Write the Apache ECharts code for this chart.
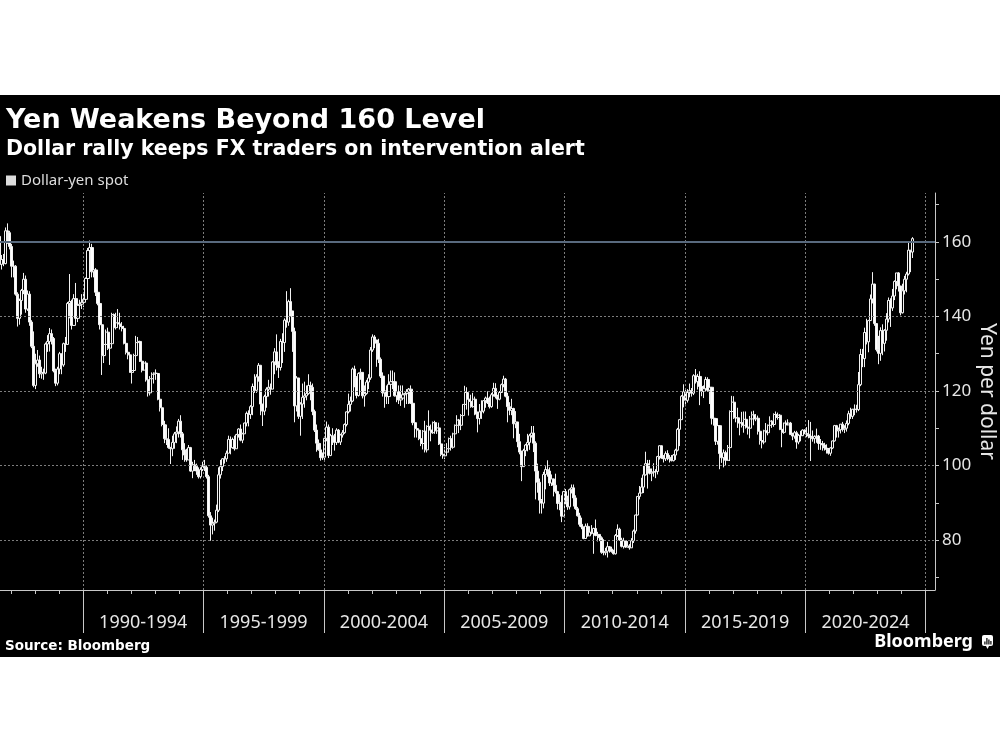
<!DOCTYPE html>
<html>
<head>
<meta charset="utf-8">
<script src="https://cdn.jsdelivr.net/npm/echarts@6/dist/echarts.min.js"></script>
<style>
html,body{margin:0;padding:0;background:#fff;width:1000px;height:750px;overflow:hidden}
#chart{position:absolute;left:0;top:95px;width:1000px;height:562px;background:#000}
</style>
</head>
<body>
<div id="chart"></div>
<script>
// Monthly USD/JPY candles, July 1986 .. June 2024
const startYear = 1986, startMonth = 7;
const firstOpen = 161.5;
const closes = [
  154.0,155.3,154.2,163.0,162.5,158.8,
  153.5,153.5,146.0,139.5,144.3,147.0,150.0,142.0,146.0,138.5,132.0,121.5,
  127.3,128.3,124.6,125.0,124.8,132.6,133.3,135.4,134.1,125.4,122.1,125.9,
  130.0,127.0,132.7,132.5,143.5,144.0,137.6,144.8,139.5,143.0,143.3,143.8,
  144.6,150.2,157.7,158.5,152.0,152.5,146.5,143.5,137.8,129.5,132.5,135.8,
  131.5,132.7,140.5,137.0,138.3,138.0,137.3,136.8,132.8,130.4,129.7,125.0,
  125.5,129.5,133.0,133.3,128.0,125.6,127.5,123.0,119.5,123.3,124.5,124.8,
  124.7,117.8,115.5,111.0,107.2,107.0,104.8,104.5,106.2,108.5,109.0,111.9,
  108.5,104.2,102.8,101.5,104.8,98.5,100.2,99.8,98.5,97.0,98.9,99.7,
  99.5,97.0,86.5,84.0,84.5,84.8,88.0,97.5,99.7,101.8,101.8,103.3,
  107.0,104.8,107.0,104.5,108.3,109.8,106.8,108.5,111.4,114.0,113.7,115.8,
  121.2,120.2,123.8,126.9,116.5,114.6,118.5,120.5,121.0,120.5,127.8,130.5,
  127.0,126.3,133.3,133.0,139.0,138.5,144.0,141.5,136.0,116.0,123.5,113.2,
  116.5,118.3,118.7,119.3,121.5,121.0,114.5,109.5,106.0,104.2,102.1,102.2,
  107.3,110.3,102.7,108.0,107.8,106.2,109.5,106.3,108.2,108.8,111.0,114.4,
  116.4,117.3,125.9,123.6,118.8,124.7,125.0,118.7,119.3,122.4,123.5,131.0,
  134.5,133.7,132.8,128.5,124.0,119.5,120.0,118.5,121.8,122.5,122.5,118.7,
  119.8,117.6,118.1,119.0,119.3,119.8,120.5,116.7,111.5,109.9,109.5,107.2,
  105.9,109.2,104.2,110.5,109.5,108.8,111.5,109.3,110.1,105.8,103.0,102.6,
  103.6,104.5,107.2,104.9,108.5,110.8,112.2,110.8,113.4,116.4,119.6,117.8,
  117.2,115.8,117.8,113.8,112.6,114.4,114.6,117.4,118.1,116.8,115.8,119.0,
  120.7,118.5,117.8,119.6,121.7,123.2,118.6,115.8,114.8,115.3,111.2,111.7,
  106.4,103.6,99.7,104.0,105.5,106.2,108.0,108.7,106.0,98.5,95.5,90.7,
  89.9,97.6,98.9,98.5,95.3,96.4,94.7,93.0,89.8,90.1,86.4,93.0,
  90.3,88.9,93.5,94.0,91.3,88.4,86.5,84.2,83.5,80.4,83.7,81.1,
  82.1,81.8,83.1,81.2,81.5,80.6,76.7,76.6,77.0,78.2,77.6,76.9,
  76.3,81.2,82.9,80.0,78.3,79.8,78.1,78.4,77.9,79.8,82.4,86.7,
  91.7,92.6,94.2,97.5,100.5,99.1,97.9,98.2,98.3,98.4,102.4,105.3,
  102.0,101.8,103.2,102.2,101.8,101.3,102.8,104.1,109.7,112.3,118.6,119.8,
  117.5,119.6,120.1,119.4,124.1,122.5,123.9,121.2,119.9,120.6,123.1,120.2,
  121.0,112.7,112.6,106.5,110.7,103.2,102.1,103.4,101.4,104.8,114.5,117.0,
  112.8,112.8,111.4,111.5,110.8,112.4,110.3,110.0,112.5,113.6,112.5,112.7,
  109.2,106.7,106.3,109.3,108.8,110.8,111.9,111.0,113.7,112.9,113.5,109.7,
  108.9,111.4,110.9,111.4,108.3,107.9,108.8,106.3,108.1,108.0,109.5,108.6,
  108.4,107.9,107.5,107.2,107.8,107.9,105.9,105.9,105.5,104.7,104.3,103.3,
  104.7,106.6,110.7,109.3,109.6,111.1,109.7,110.0,111.3,113.9,113.2,115.1,
  115.1,115.0,121.7,129.8,128.7,135.7,133.2,138.9,144.7,148.7,138.1,131.1,
  130.1,136.2,132.8,136.3,139.3,144.3,142.3,145.5,149.4,151.7,148.2,141.0,
  146.9,150.0,151.4,157.8,157.3,160.9
];
const highs = [
  163.2,156.5,156.8,163.9,165.0,163.0,
  159.5,155.0,153.8,146.5,144.8,147.4,151.7,151.0,147.0,146.8,139.0,136.0,
  130.0,131.0,129.5,126.5,126.0,133.0,135.0,136.9,136.5,134.5,126.0,126.5,
  130.5,130.0,133.0,134.5,143.9,151.4,144.5,146.0,149.0,143.5,144.5,146.0,
  146.5,150.5,158.4,160.4,159.5,155.0,153.0,150.0,145.0,138.5,133.5,136.5,
  137.0,134.0,141.0,140.8,141.0,142.0,141.0,138.5,137.5,133.5,131.5,130.0,
  127.5,130.0,134.8,134.5,133.5,128.5,128.0,128.0,124.0,124.0,125.0,125.0,
  125.8,124.5,118.5,115.5,112.0,111.0,110.0,105.0,108.0,109.0,110.5,112.5,
  113.5,109.0,106.0,104.5,105.5,105.0,101.0,101.5,100.5,99.5,99.5,101.0,
  101.5,100.0,97.5,87.5,86.0,85.5,89.5,99.5,101.5,102.0,102.5,104.0,
  108.0,107.8,107.5,108.0,108.5,110.0,111.0,108.8,111.5,114.5,114.8,116.2,
  122.0,124.5,124.5,127.5,127.0,116.5,119.0,121.0,123.0,122.0,128.0,131.5,
  135.2,128.0,134.0,135.5,139.5,146.8,144.5,147.6,139.5,137.0,124.0,123.5,
  117.0,122.0,122.5,121.5,124.5,122.5,122.0,115.0,111.0,107.0,106.0,103.5,
  107.5,111.8,111.0,108.5,110.0,108.5,110.0,109.8,108.5,109.5,111.3,114.5,
  119.3,118.5,126.3,126.8,124.0,125.0,126.0,125.0,121.5,123.0,124.5,131.8,
  135.2,135.0,133.5,134.0,129.0,125.0,120.5,121.5,124.5,125.5,125.5,125.0,
  120.5,121.5,121.5,121.5,119.5,120.5,120.8,121.5,117.5,111.5,110.5,109.5,
  107.5,109.5,112.0,110.8,114.8,111.0,111.8,112.0,111.5,111.5,106.5,105.8,
  105.0,106.0,107.5,108.0,108.8,111.0,113.5,112.5,113.8,116.5,121.4,121.0,
  118.0,119.0,119.5,118.5,114.5,116.5,117.5,117.5,118.5,119.9,118.5,119.5,
  122.2,122.1,119.0,120.0,122.0,124.1,123.5,119.5,117.0,117.9,115.5,114.6,
  109.8,108.5,104.0,104.5,105.8,108.5,108.5,110.6,110.6,106.5,100.5,96.5,
  91.0,98.3,99.8,101.4,99.5,97.6,96.5,97.8,93.2,92.3,92.0,93.2,
  93.7,91.9,93.8,94.9,94.9,92.0,88.9,87.3,86.0,83.6,84.4,84.5,
  83.7,84.0,83.3,85.5,82.2,81.5,81.0,80.2,77.9,79.5,78.4,78.2,
  77.4,81.6,84.2,83.3,80.6,80.6,80.0,79.7,78.9,80.5,82.8,86.8,
  91.8,94.5,96.7,99.9,103.7,101.5,101.5,99.2,100.6,99.0,102.6,105.4,
  105.4,102.8,103.8,104.1,102.8,102.8,103.1,104.5,110.1,112.5,118.9,121.8,
  120.8,120.5,122.0,120.8,124.5,125.9,124.6,125.3,121.7,121.5,123.8,123.7,
  121.7,121.0,114.0,112.0,111.5,110.5,107.5,104.3,104.0,105.5,114.8,118.7,
  118.6,115.0,115.5,112.2,114.4,114.5,114.5,111.0,113.3,114.5,114.7,113.8,
  113.4,110.5,107.3,109.6,111.4,111.0,113.2,112.2,114.0,114.5,114.2,113.8,
  109.9,111.5,112.1,112.4,111.7,108.8,109.3,109.3,108.5,109.3,109.7,109.7,
  110.3,112.2,111.7,109.4,108.1,109.9,108.2,107.1,106.6,106.1,105.7,104.7,
  104.9,106.7,110.9,110.9,110.2,111.1,111.7,110.8,112.1,114.7,115.5,115.2,
  116.4,116.3,125.1,131.3,131.3,137.0,139.4,139.1,145.9,151.9,148.8,138.2,
  134.8,137.1,137.9,136.6,140.9,145.1,144.9,147.4,149.7,151.7,151.9,148.0,
  148.8,150.9,152.0,160.2,157.7,161.3
];
const lows = [
  152.8,152.6,153.5,154.0,159.5,158.0,
  150.5,150.5,145.6,137.3,137.8,140.5,146.0,141.0,141.5,137.5,131.5,121.0,
  120.5,126.5,123.5,123.3,123.0,124.5,130.5,130.6,132.5,125.0,121.3,121.5,
  124.5,124.5,126.5,130.5,132.5,139.5,136.5,137.5,138.0,138.5,141.8,142.0,
  142.5,144.5,148.5,154.5,150.5,150.5,145.5,143.0,136.5,124.3,127.5,131.0,
  131.0,127.0,132.0,134.5,136.5,137.0,136.5,136.0,132.5,129.8,128.5,124.9,
  122.0,125.0,129.5,131.5,127.8,125.0,125.5,122.5,118.5,118.8,121.5,122.0,
  123.0,117.5,114.5,110.5,106.0,105.5,104.5,100.4,102.5,104.5,106.0,107.5,
  107.5,101.5,101.0,101.0,102.0,98.3,96.6,98.5,97.5,96.5,96.5,98.5,
  98.5,96.5,86.0,79.8,81.5,82.5,84.5,87.5,96.5,98.5,100.5,101.0,
  103.5,103.0,104.5,104.0,104.5,107.5,106.5,106.0,108.5,110.5,110.5,112.5,
  113.5,119.5,119.5,122.5,113.5,110.6,113.5,115.5,118.5,119.0,120.5,124.5,
  125.5,123.5,125.5,127.5,130.5,137.0,137.5,140.0,130.5,111.6,114.5,112.5,
  108.0,112.5,115.5,117.5,119.0,117.5,113.5,109.0,103.7,104.0,101.3,101.5,
  101.5,106.5,102.0,102.5,105.5,104.0,105.5,106.0,105.5,107.5,108.5,110.5,
  114.0,114.5,117.0,121.0,118.0,118.5,123.0,118.0,115.8,119.0,120.5,123.0,
  130.5,131.5,126.5,127.5,123.5,118.5,115.5,116.5,116.5,121.0,120.5,118.5,
  117.0,116.5,116.0,118.0,115.5,116.5,116.5,116.5,110.8,107.5,107.5,106.8,
  105.2,104.3,103.5,103.5,108.5,106.5,108.5,108.5,108.5,105.5,102.5,101.8,
  101.7,103.0,103.5,104.0,104.5,106.5,110.0,108.7,109.5,113.0,116.0,115.0,
  113.4,115.5,115.5,113.5,108.9,111.0,112.5,114.0,115.5,116.5,115.3,115.5,
  118.5,118.0,115.2,117.5,119.5,121.0,118.3,111.6,113.5,113.5,107.3,110.0,
  104.9,103.0,95.8,99.8,102.5,103.8,104.2,107.5,103.6,90.9,92.7,87.1,
  87.1,88.5,93.6,97.0,94.5,94.5,91.7,92.5,88.2,88.0,84.8,86.4,
  89.6,88.1,88.2,92.5,89.0,88.1,86.3,83.6,82.9,80.2,80.3,80.9,
  81.5,81.5,76.3,81.0,79.6,79.7,76.3,75.9,75.9,75.3,76.6,76.6,
  76.1,76.1,80.8,79.8,78.0,77.7,77.9,78.0,77.4,77.9,79.2,81.7,
  86.6,90.9,92.6,92.6,97.3,93.8,97.6,95.8,97.0,96.6,97.6,101.6,
  101.8,100.8,101.2,101.4,100.8,101.1,101.1,101.5,103.8,105.2,112.4,115.6,
  115.9,116.9,118.3,118.5,118.9,122.0,120.4,116.2,118.6,118.1,120.4,119.8,
  116.5,111.0,110.7,105.5,105.6,99.0,100.7,99.5,100.1,101.3,101.2,112.9,
  112.5,111.6,110.1,108.1,110.2,108.8,109.9,108.3,107.3,111.7,110.8,111.9,
  108.3,105.6,104.6,105.7,108.1,108.1,110.3,110.1,110.4,111.4,112.3,109.5,
  104.9,108.5,109.7,110.8,108.3,106.8,107.2,104.5,105.7,106.5,107.9,108.4,
  107.6,107.3,101.2,106.4,105.9,106.1,104.2,104.2,104.0,104.0,103.2,102.9,
  102.6,104.4,106.4,107.5,107.5,108.6,109.1,108.7,109.1,110.8,112.5,112.5,
  113.5,114.2,114.6,121.3,126.4,126.4,132.5,130.4,138.8,143.5,137.5,130.6,
  127.2,128.1,129.6,130.6,133.5,138.4,137.2,141.5,144.4,147.3,146.7,140.3,
  140.8,145.9,146.5,151.0,151.9,155.7
];

const bandEdges  = [1990, 1995, 2000, 2005, 2010, 2015, 2020, 2025];
const bandMids   = [1992.5, 1997.5, 2002.5, 2007.5, 2012.5, 2017.5, 2022.5];
const bandLabels = ['1990-1994','1995-1999','2000-2004','2005-2009','2010-2014','2015-2019','2020-2024'];
const yearTicks  = [1987,1988,1989,1990,1991,1992,1993,1994,1995,1996,1997,1998,1999,2000,2001,2002,2003,2004,2005,2006,2007,2008,2009,2010,2011,2012,2013,2014,2015,2016,2017,2018,2019,2020,2021,2022,2023,2024,2025];
const yTicks     = [70, 80, 90, 100, 110, 120, 130, 140, 150, 160, 170];
const yLabels    = [80, 100, 120, 140, 160];
const yGrid      = [80, 100, 120, 140];
const refLevel   = 160;

const candles = [];
let prev = firstOpen;
for (let i = 0; i < closes.length; i++) {
  const mIdx = startMonth - 1 + i;
  const yr = startYear + Math.floor(mIdx / 12);
  const mo = mIdx % 12;
  const x = yr + (mo + 0.5) / 12;
  const o = prev, c = closes[i];
  const h = Math.max(highs[i], o, c), l = Math.min(lows[i], o, c);
  candles.push([x, o, c, l, h]);
  prev = c;
}

const X_MIN = 1986.553, X_MAX = 2025.387;
const Y_MIN = 66.58, Y_MAX = 173.15;
const dash = {type: [2, 2], color: '#7d7d7d', width: 1};

const chart = echarts.init(document.getElementById('chart'), null, {renderer: 'canvas'});
chart.setOption({
  animation: false,
  backgroundColor: 'transparent',
  title: [
    {text: 'Yen Weakens Beyond 160 Level', left: 1, top: 6,
     textStyle: {color: '#fff', fontFamily: 'DejaVu Sans', fontWeight: 'bold', fontSize: 27, lineHeight: 30}},
    {text: 'Dollar rally keeps FX traders on intervention alert', left: 1, top: 38,
     textStyle: {color: '#fff', fontFamily: 'DejaVu Sans', fontWeight: 'bold', fontSize: 20.5, lineHeight: 24}}
  ],
  legend: {
    data: [{name: 'Dollar-yen spot', icon: 'rect', itemStyle: {color: '#dcdcdc', borderWidth: 0}}],
    left: 6, top: 78, itemWidth: 10, itemHeight: 10, selectedMode: false, padding: 0,
    textStyle: {color: '#dcdcdc', fontSize: 15, fontFamily: 'Noto Sans', padding: [0, 0, 0, 0]}
  },
  grid: {left: 0, right: 65, top: 98, bottom: 67, containLabel: false, outerBoundsMode: 'none'},
  xAxis: [
    {type: 'value', min: X_MIN, max: X_MAX, position: 'bottom',
     axisLine: {show: true, lineStyle: {color: '#c8c8c8', width: 1}},
     axisTick: {show: true, customValues: yearTicks, length: 4, lineStyle: {color: '#c8c8c8'}},
     axisLabel: {show: true, customValues: bandMids, margin: 24, color: '#e6e6e6', fontSize: 18,
                 fontFamily: 'Noto Sans', lineHeight: 18,
                 formatter: v => { const i = bandMids.findIndex(m => Math.abs(m - v) < 0.01); return i >= 0 ? bandLabels[i] : ''; }},
     splitLine: {show: false}},
    {type: 'value', min: X_MIN, max: X_MAX, position: 'bottom',
     axisLine: {show: false},
     axisTick: {show: true, customValues: bandEdges, length: 43, lineStyle: {color: '#c8c8c8'}},
     axisLabel: {show: false},
     splitLine: {show: false}}
  ],
  yAxis: {
    type: 'value', position: 'right', min: Y_MIN, max: Y_MAX,
    axisLine: {show: true, lineStyle: {color: '#c8c8c8', width: 1}},
    axisTick: {show: true, customValues: yTicks, length: 4, lineStyle: {color: '#c8c8c8'}},
    axisLabel: {show: true, customValues: yLabels, margin: 7, color: '#e6e6e6', fontSize: 17, fontFamily: 'Noto Sans'},
    splitLine: {show: false},
    name: 'Yen per dollar', nameLocation: 'middle', nameRotate: -90, nameGap: 41, nameMoveOverlap: false,
    nameTextStyle: {color: '#e6e6e6', fontSize: 21, fontFamily: 'Noto Sans', lineHeight: 21}
  },
  series: [
    {type: 'line', name: 'grid', data: [], z: 1, silent: true,
     markLine: {silent: true, symbol: ['none', 'none'], label: {show: false}, animation: false,
       data: bandEdges.map(v => ({xAxis: v, lineStyle: dash}))
         .concat(yGrid.map(v => ({yAxis: v, lineStyle: dash})))
         .concat([{yAxis: refLevel, lineStyle: {type: 'solid', color: '#596a7e', width: 2}}])}},
    {type: 'candlestick', name: 'Dollar-yen spot', data: candles, encode: {x: 0, y: [1, 2, 3, 4]},
     barWidth: 2.6, z: 3,
     itemStyle: {color: '#000', color0: '#fff', borderColor: '#f2f2f2', borderColor0: '#f2f2f2', borderWidth: 1}}
  ],
  graphic: [
    {type: 'text', left: 5, top: 544, style: {text: 'Source: Bloomberg', fill: '#fff', font: 'bold 13.5px "DejaVu Sans"'}},
    {type: 'text', right: 27, top: 538, style: {text: 'Bloomberg', fill: '#fff', font: 'bold 18px "Noto Sans"'}},
    {type: 'rect', left: 982, top: 540, shape: {width: 11, height: 11, r: 2}, style: {fill: '#fff'}},
    {type: 'polygon', shape: {points: [[985.5, 550], [989.5, 550], [987.5, 554]]}, style: {fill: '#fff'}},
    {type: 'rect', shape: {x: 984.3, y: 546.5, width: 1.2, height: 3}, style: {fill: '#000'}},
    {type: 'rect', shape: {x: 986.3, y: 543, width: 1.2, height: 6.5}, style: {fill: '#000'}},
    {type: 'rect', shape: {x: 988.3, y: 544.5, width: 1.2, height: 5}, style: {fill: '#000'}},
    {type: 'rect', shape: {x: 990.3, y: 546, width: 1.2, height: 3.5}, style: {fill: '#000'}}
  ]
});
</script>
</body>
</html>
